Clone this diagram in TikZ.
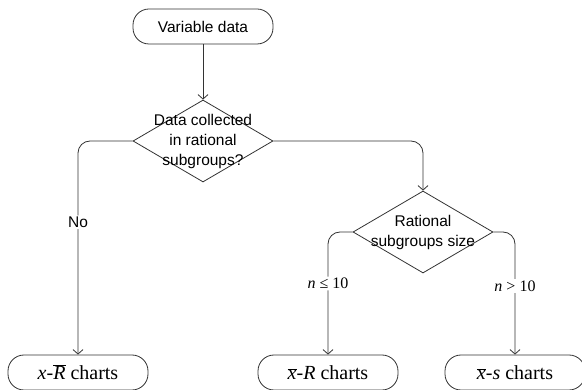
\documentclass[tikz,border=0pt]{standalone}
\usepackage{fontspec}
\setmainfont{Liberation Serif}
\newfontfamily\arialfont{Liberation Sans}
\usetikzlibrary{shapes.geometric,arrows.meta}
\begin{document}
\begin{tikzpicture}[x=1pt,y=-1pt,
  line/.style={draw=black!80, line width=0.8pt},
  arr/.style={line, -{Straight Barb[length=4.5pt,width=10pt]}},
  term/.style={draw=black!80, line width=0.8pt, rectangle, rounded corners=16pt,
    minimum width=140pt, minimum height=35pt, inner sep=0pt},
  decision/.style={draw=black!80, line width=0.8pt, diamond,
    minimum width=140pt, minimum height=82pt, inner sep=0pt},
  sans/.style={font=\arialfont\fontsize{15.5}{20}\selectfont, align=center},
  bigserif/.style={font=\fontsize{20}{24}\selectfont},
  lab/.style={fill=white, inner sep=1.5pt, font=\fontsize{16}{19}\selectfont},
  sanslab/.style={fill=white, inner sep=1.5pt, font=\arialfont\fontsize{15.5}{19}\selectfont}]
\useasboundingbox (0,0) rectangle (582,390);

\node[term, sans] (t) at (203,26.5) {Variable data};
\node[decision, label={[sans]center:{Data collected\\in rational\\subgroups?}}] (d1) at (203,141) {};
\node[decision, label={[sans]center:{Rational\\subgroups size}}] (d2) at (423,232) {};
\node[term, bigserif] (b1) at (78,372.5) {\textit{x}-$\overline{\mbox{\textit{R}}}$ charts};
\node[term, bigserif] (b2) at (328,372.5) {$\overline{\mbox{\textit{x}}}$-\textit{R} charts};
\node[term, bigserif] (b3) at (515,372.5) {$\overline{\mbox{\textit{x}}}$-\textit{s} charts};

\draw[arr] (t.south) -- (d1.north);
\draw[arr, rounded corners=12pt] (d1.west) -| node[sanslab, pos=0.69] {No} (b1.north);
\draw[arr, rounded corners=12pt] (d1.east) -| (d2.north);
\draw[arr, rounded corners=12pt] (d2.west) -| node[lab, pos=0.71] {\textit{n} ≤ 10} (b2.north);
\draw[arr, rounded corners=12pt] (d2.east) -| node[lab, pos=0.72] {\textit{n} > 10} (b3.north);
\end{tikzpicture}
\end{document}
